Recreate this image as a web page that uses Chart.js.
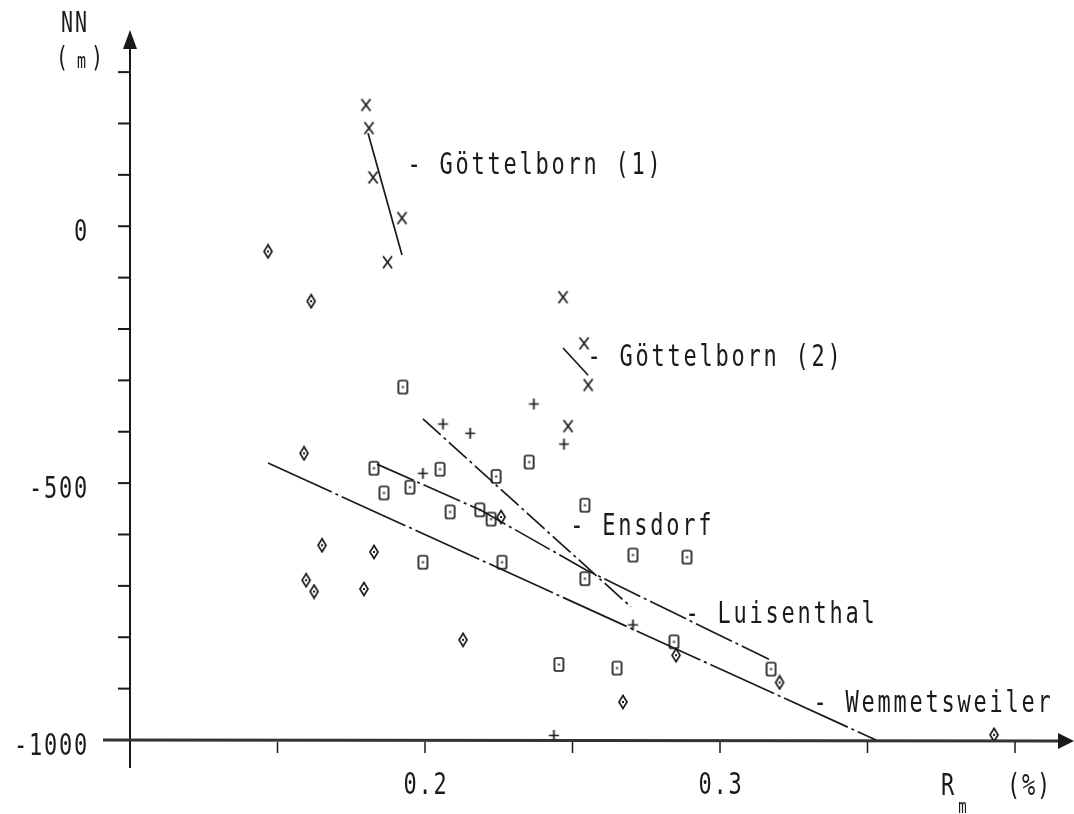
<!DOCTYPE html>
<html>
<head>
<meta charset="utf-8">
<title>NN vs Rm</title>
<script src="https://cdn.jsdelivr.net/npm/chart.js@4.4.0/dist/chart.umd.min.js"></script>
<style>
  html, body { margin: 0; padding: 0; background: #fff; }
  #wrap { width: 1074px; height: 814px; }
</style>
</head>
<body>
<div id="wrap"><canvas id="chart" width="1074" height="814"></canvas></div>
<script>
// Rm (%) against depth NN (m), one marker shape per mine
const crossPts = [[0.1800, 236], [0.1810, 191], [0.1824, 95], [0.1922, 16], [0.1873, -70],
  [0.2468, -138], [0.2539, -228], [0.2553, -309], [0.2485, -389]];
const plusPts = [[0.2369, -346], [0.2061, -385], [0.2153, -403], [0.2471, -424], [0.1993, -481],
  [0.2705, -776], [0.2437, -991]];
const squarePts = [[0.1925, -313], [0.2353, -459], [0.2051, -473], [0.2241, -487], [0.1827, -471],
  [0.1949, -508], [0.1861, -519], [0.2085, -556], [0.2186, -552], [0.2224, -570], [0.1993, -654],
  [0.2261, -654], [0.2542, -543], [0.2542, -686], [0.2705, -640], [0.2888, -644], [0.2844, -809],
  [0.3173, -862], [0.2454, -853], [0.2651, -860]];
const diamondPts = [[0.1468, -49], [0.1614, -146], [0.1590, -442], [0.1651, -621], [0.1827, -634],
  [0.1597, -689], [0.1624, -711], [0.1793, -706], [0.2129, -805], [0.2258, -566], [0.2671, -926],
  [0.2851, -835], [0.3202, -888], [0.3929, -990]];

// regression lines
const fitG1 = [[0.1807, 181], [0.1922, -56]];
const fitG2 = [[0.2468, -237], [0.2553, -290]];
const fitEnsdorf = [[0.1993, -375], [0.2698, -741]];
const fitLuisenthal = [[0.1837, -463], [0.2190, -553], [0.2546, -669], [0.3166, -843]];
const fitWemmetsweiler = [[0.1468, -461], [0.3529, -1000]];

const seriesNames = ['- Göttelborn (1)', '- Göttelborn (2)', '- Ensdorf', '- Luisenthal', '- Wemmetsweiler'];

const xTicks = [0.15, 0.2, 0.25, 0.3, 0.35, 0.4];
const xTickLabels = [[0.2, '0.2'], [0.3, '0.3']];
const yTicks = [-900, -800, -700, -600, -500, -400, -300, -200, -100, 0, 100, 200, 300];
const yTickLabels = [[0, '0'], [-500, '-500'], [-1000, '-1000']];

const INK = '#1a1a1a';
const toXY = pts => pts.map(p => ({ x: p[0], y: p[1] }));

// small pen-plotter style markers
function markerCanvas(w, h, draw) {
  const c = document.createElement('canvas');
  c.width = w; c.height = h;
  const g = c.getContext('2d');
  g.strokeStyle = INK; g.fillStyle = INK; g.lineWidth = 1.7;
  draw(g, w, h);
  return c;
}
const squareMark = markerCanvas(13, 17, (g, w, h) => {
  g.beginPath(); g.roundRect(2, 2, w - 4, h - 4, 2); g.stroke();
  g.fillRect(w / 2 - 1, h / 2 - 1, 2, 2);
});
const diamondMark = markerCanvas(12, 16, (g, w, h) => {
  g.beginPath();
  g.moveTo(w / 2, 1.5); g.lineTo(w - 2, h / 2); g.lineTo(w / 2, h - 1.5); g.lineTo(2, h / 2);
  g.closePath(); g.stroke();
  g.fillRect(w / 2 - 1, h / 2 - 1, 2, 2);
});
const crossMark = markerCanvas(13, 15, (g, w, h) => {
  g.beginPath();
  g.moveTo(2, 1.5); g.lineTo(w - 2, h - 1.5);
  g.moveTo(w - 2, 1.5); g.lineTo(2, h - 1.5);
  g.stroke();
});
const plusMark = markerCanvas(13, 13, (g, w, h) => {
  g.beginPath();
  g.moveTo(w / 2, 1); g.lineTo(w / 2, h - 1);
  g.moveTo(1.5, h / 2); g.lineTo(w - 1.5, h / 2);
  g.stroke();
});

function markers(pts, mark) {
  return { data: toXY(pts), pointStyle: mark, pointRadius: 6, showLine: false };
}
function fitLine(pts, dash) {
  return { data: toXY(pts), showLine: true, pointRadius: 0, borderColor: INK, borderWidth: 1.7,
    borderDash: dash, fill: false, tension: 0 };
}

// text in a narrow, tall plotter hand: fixed pitch, stretched vertically
function plotText(ctx, str, x, y, pitch, size) {
  ctx.save();
  ctx.translate(x, y);
  ctx.scale(1, 1.38);
  ctx.font = size + 'px "DejaVu Sans Mono"';
  ctx.fillStyle = INK;
  ctx.textAlign = 'center';
  ctx.textBaseline = 'alphabetic';
  const base = size * 0.365;
  [...str].forEach((ch, i) => ctx.fillText(ch, i * pitch + pitch / 2, base));
  ctx.restore();
}

const labelAnchors = [[0.1936, 124], [0.2546, -251], [0.2488, -580], [0.2878, -751], [0.3312, -924]];

const axesPlugin = {
  id: 'plotterAxes',
  beforeDatasetsDraw(chart) {
    const { ctx, scales: { x, y } } = chart;
    const x0 = x.getPixelForValue(0.1);
    const y0 = y.getPixelForValue(-1000);
    ctx.save();
    ctx.strokeStyle = INK;
    ctx.fillStyle = INK;

    // vertical axis
    ctx.lineWidth = 2;
    ctx.beginPath();
    ctx.moveTo(x0, 44);
    ctx.lineTo(x0, y0 + 28);
    ctx.stroke();
    ctx.beginPath();
    ctx.moveTo(x0, 30); ctx.lineTo(x0 + 7, 49); ctx.lineTo(x0 - 7, 49); ctx.closePath();
    ctx.fill();

    // horizontal axis
    ctx.strokeStyle = '#333';
    ctx.lineWidth = 3;
    ctx.beginPath();
    ctx.moveTo(103, y0);
    ctx.lineTo(1062, y0 + 1);
    ctx.stroke();
    ctx.beginPath();
    ctx.moveTo(1074, y0 + 1); ctx.lineTo(1058, y0 - 7); ctx.lineTo(1058, y0 + 9); ctx.closePath();
    ctx.fill();

    ctx.strokeStyle = INK;
    ctx.lineWidth = 2;
    yTicks.forEach(v => {
      const py = y.getPixelForValue(v);
      ctx.beginPath(); ctx.moveTo(x0 - 12, py); ctx.lineTo(x0, py); ctx.stroke();
    });
    ctx.lineWidth = 1.5;
    xTicks.forEach(v => {
      const px = x.getPixelForValue(v);
      ctx.beginPath(); ctx.moveTo(px, y0 + 2); ctx.lineTo(px, y0 + 13); ctx.stroke();
    });

    // tick labels
    yTickLabels.forEach(([v, s]) => {
      plotText(ctx, s, 88 - s.length * 15, y.getPixelForValue(v) + 4, 15, 22);
    });
    xTickLabels.forEach(([v, s]) => {
      plotText(ctx, s, x.getPixelForValue(v) - s.length * 7.5, 783, 15, 22);
    });

    // axis titles
    plotText(ctx, 'NN', 60, 22, 14, 20);
    plotText(ctx, '(', 56, 57, 12, 20);
    plotText(ctx, ')', 91, 57, 12, 20);
    plotText(ctx, 'm', 75, 60, 13, 15);
    plotText(ctx, 'R', 940, 784, 15, 22);
    plotText(ctx, 'm', 957, 806, 11, 14);
    plotText(ctx, '(%)', 1006, 784, 15, 22);
    ctx.restore();
  },
  afterDatasetsDraw(chart) {
    const { ctx, scales: { x, y } } = chart;
    seriesNames.forEach((name, i) => {
      const [ax, ay] = labelAnchors[i];
      plotText(ctx, name, x.getPixelForValue(ax), y.getPixelForValue(ay), 16, 22);
    });
  }
};

new Chart(document.getElementById('chart'), {
  type: 'scatter',
  data: {
    datasets: [
      markers(crossPts, crossMark),
      markers(plusPts, plusMark),
      markers(squarePts, squareMark),
      markers(diamondPts, diamondMark),
      fitLine(fitG1, []),
      fitLine(fitG2, []),
      fitLine(fitEnsdorf, [24, 4, 3, 4]),
      fitLine(fitLuisenthal, [40, 4, 3, 4]),
      fitLine(fitWemmetsweiler, [70, 4, 3, 4])
    ]
  },
  options: {
    responsive: false,
    animation: false,
    devicePixelRatio: 1,
    layout: { autoPadding: false, padding: { left: 130, right: 0, top: 31, bottom: 74 } },
    scales: {
      x: { type: 'linear', min: 0.1, max: 0.42, display: false },
      y: { type: 'linear', min: -1000, max: 380, display: false }
    },
    plugins: {
      legend: { display: false },
      tooltip: { enabled: false }
    }
  },
  plugins: [axesPlugin]
});
</script>
</body>
</html>
